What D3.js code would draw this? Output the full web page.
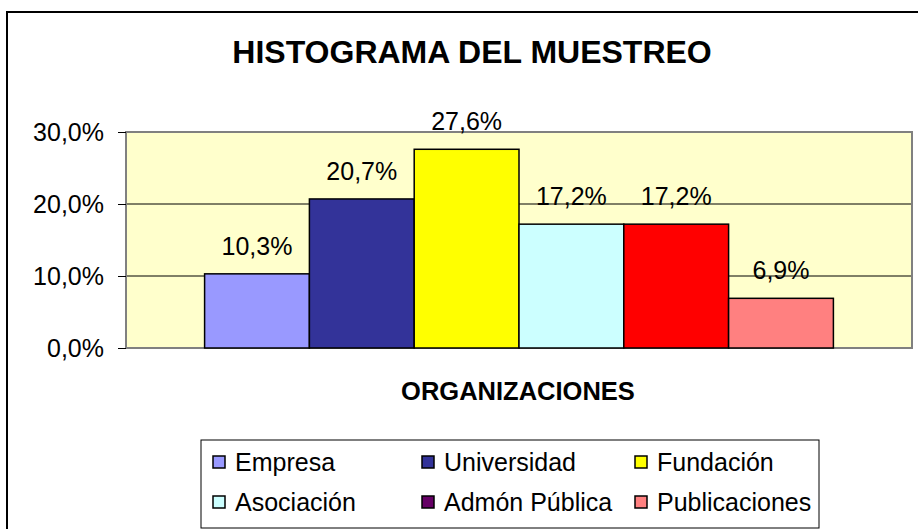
<!DOCTYPE html>
<html>
<head>
<meta charset="utf-8">
<script src="https://cdn.jsdelivr.net/npm/d3@7"></script>
<style>
  html, body { margin: 0; padding: 0; background: #fff; }
  svg { display: block; font-family: "Liberation Sans", Arial, sans-serif; }
</style>
</head>
<body>
<svg id="chart" width="918" height="529"></svg>
<script>
// data
const series = ['Empresa', 'Universidad', 'Fundación', 'Asociación', 'Admón Pública', 'Publicaciones']
const values = [0.103, 0.207, 0.276, 0.172, 0.172, 0.069]
const barFills = ['#9999FF', '#333399', '#FFFF00', '#CCFFFF', '#FF0000', '#FF8080']
const legendFills = ['#9999FF', '#333399', '#FFFF00', '#CCFFFF', '#660066', '#FF8080']
const yTicks = [0, 0.1, 0.2, 0.3]
const category = ['']

const locale = d3.formatLocale({decimal: ',', thousands: '.', grouping: [3], currency: ['', ' €']})
const fmt = locale.format('.1%')

const svg = d3.select('#chart')

// chart frame (runs off the right and bottom edges)
svg.append('rect')
  .attr('x', 7).attr('y', 12)
  .attr('width', 960).attr('height', 560)
  .attr('fill', '#fff')
  .attr('stroke', '#000')
  .attr('stroke-width', 2)

const plot = {left: 126, right: 912, top: 132, bottom: 348}

const x0 = d3.scaleBand()
  .domain(category)
  .range([plot.left, plot.right])
  .paddingInner(0)
  .paddingOuter(0.125)

const x1 = d3.scaleBand()
  .domain(series)
  .range([0, x0.bandwidth()])

const y = d3.scaleLinear()
  .domain([0, 0.3])
  .range([plot.bottom, plot.top])

// plot area
svg.append('rect')
  .attr('x', plot.left).attr('y', plot.top)
  .attr('width', plot.right - plot.left)
  .attr('height', plot.bottom - plot.top)
  .attr('fill', '#FFFFCC')

svg.append('g')
  .selectAll('line')
  .data(yTicks.filter((d) => d > 0 && d < 0.3))
  .join('line')
  .attr('x1', plot.left).attr('x2', plot.right)
  .attr('y1', (d) => y(d)).attr('y2', (d) => y(d))
  .attr('stroke', '#000')
  .attr('stroke-width', 1)

svg.append('rect')
  .attr('x', plot.left).attr('y', plot.top)
  .attr('width', plot.right - plot.left)
  .attr('height', plot.bottom - plot.top)
  .attr('fill', 'none')
  .attr('stroke', '#808080')
  .attr('stroke-width', 2)

// y axis
const yAxis = svg.append('g')
  .attr('transform', `translate(${plot.left}, 0)`)
  .call(d3.axisLeft(y).tickValues(yTicks).tickFormat(fmt).tickSize(8).tickPadding(14))
yAxis.select('.domain').remove()
yAxis.selectAll('.tick line').attr('stroke', '#000').attr('stroke-width', 1)
yAxis.selectAll('.tick text')
  .attr('font-size', 25)
  .attr('font-family', '"Liberation Sans", Arial, sans-serif')
  .attr('fill', '#000')

// bars
const g = svg.append('g')
  .attr('transform', `translate(${x0('')}, 0)`)

g.selectAll('rect.bar')
  .data(series)
  .join('rect')
  .attr('class', 'bar')
  .attr('x', (d) => x1(d))
  .attr('y', (d, i) => y(values[i]))
  .attr('width', x1.bandwidth())
  .attr('height', (d, i) => y(0) - y(values[i]))
  .attr('fill', (d, i) => barFills[i])
  .attr('stroke', '#000')
  .attr('stroke-width', 1.5)

g.selectAll('text.lbl')
  .data(series)
  .join('text')
  .attr('class', 'lbl')
  .attr('x', (d) => x1(d) + x1.bandwidth() / 2)
  .attr('y', (d, i) => y(values[i]) - 19)
  .attr('text-anchor', 'middle')
  .attr('font-size', 25)
  .text((d, i) => fmt(values[i]))

// titles
svg.append('text')
  .attr('x', 472).attr('y', 63)
  .attr('text-anchor', 'middle')
  .attr('font-size', 32)
  .attr('font-weight', 'bold')
  .text('HISTOGRAMA DEL MUESTREO')

svg.append('text')
  .attr('x', (plot.left + plot.right) / 2 - 1).attr('y', 400)
  .attr('text-anchor', 'middle')
  .attr('font-size', 25.5)
  .attr('font-weight', 'bold')
  .text('ORGANIZACIONES')

// legend
const legend = svg.append('g')
legend.append('rect')
  .attr('x', 201).attr('y', 440)
  .attr('width', 618).attr('height', 88)
  .attr('fill', '#fff')
  .attr('stroke', '#000')
  .attr('stroke-width', 1)

const colX = [213, 422, 635]
const rowY = [462, 502]
const items = legend.selectAll('g.item')
  .data(series)
  .join('g')
  .attr('class', 'item')
  .attr('transform', (d, i) => `translate(${colX[i % 3]}, ${rowY[Math.floor(i / 3)]})`)
items.append('rect')
  .attr('x', 0).attr('y', -6)
  .attr('width', 12).attr('height', 12)
  .attr('fill', (d, i) => legendFills[i])
  .attr('stroke', '#000')
  .attr('stroke-width', 1.5)
items.append('text')
  .attr('x', 22).attr('y', 9)
  .attr('font-size', 25)
  .text((d) => d)
</script>
</body>
</html>
